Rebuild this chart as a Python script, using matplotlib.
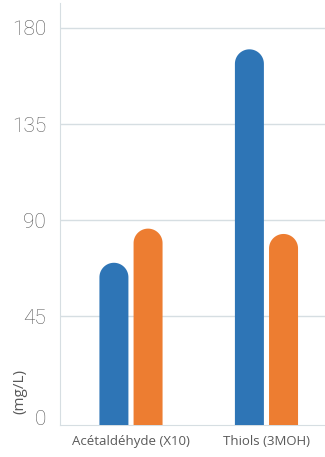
import numpy as np
import matplotlib
matplotlib.use("Agg")
from matplotlib import pyplot as plt
from matplotlib.path import Path
from matplotlib.patches import PathPatch
from matplotlib.transforms import ScaledTranslation

categories = ["Acétaldéhyde (X10)", "Thiols (3MOH)"]
serie_bleue = [70, 170]
serie_orange = [86, 83.5]
yticks = [0, 45, 90, 135, 180]

BLEU = "#2E75B6"
ORANGE = "#ED7D31"
GRIS = "#595959"
y_bas, y_haut = -6, 191.7

plt.rcParams['font.family'] = ['Open Sans', 'DejaVu Sans']

fig = plt.figure(figsize=(3.25, 4.57), dpi=100)
ax = fig.add_axes([60 / 325, 1 - 425 / 457, 1 - 60 / 325, 422 / 457])
ax.set_xlim(-0.524, 1.432)
ax.set_ylim(y_bas, y_haut)

x = np.arange(len(categories))
larg = 0.214
decal = 0.252
barres = []
for serie, dx, coul in [(serie_bleue, -decal / 2, BLEU), (serie_orange, decal / 2, ORANGE)]:
    b = ax.bar(x + dx, np.array(serie) - y_bas, bottom=y_bas, width=larg, color=coul)
    for rect in b:
        rect.set_visible(False)
        barres.append((rect, coul))

# barres a sommet arrondi
fig.canvas.draw()
tr = ax.transData
for rect, coul in barres:
    x0, x1 = rect.get_x(), rect.get_x() + rect.get_width()
    top = rect.get_y() + rect.get_height()
    (px0, pb), (px1, pt) = tr.transform([(x0, y_bas), (x1, top)])
    r = (px1 - px0) / 2
    cx, cy = px0 + r, pt - r
    ang = np.linspace(0, np.pi, 40)
    pts = [(px0, pb), (px1, pb)] + [(cx + r * np.cos(a), cy + r * np.sin(a)) for a in ang] + [(px0, pb)]
    data_pts = tr.inverted().transform(pts)
    codes = [Path.MOVETO] + [Path.LINETO] * (len(pts) - 2) + [Path.CLOSEPOLY]
    ax.add_patch(PathPatch(Path(data_pts, codes), facecolor=coul, edgecolor="none", zorder=3))

ax.set_yticks(yticks)
ax.set_yticklabels([str(v) for v in yticks], fontsize=15, color=GRIS,
                   family=['Roboto', 'DejaVu Sans'], fontweight="light")
ax.set_xticks(x)
ax.set_xticklabels(categories, fontsize=9.5, color=GRIS)
ax.tick_params(axis="both", length=0)
ax.tick_params(axis="y", pad=10)
ax.tick_params(axis="x", pad=7)
ax.grid(axis="y", color="#D6DEE2", linewidth=1)
ax.get_ygridlines()[0].set_visible(False)
ax.set_axisbelow(True)
for s in ["top", "right"]:
    ax.spines[s].set_visible(False)
ax.spines["left"].set_color("#D6DEE2")
ax.spines["bottom"].set_color("#D6DEE2")

# le "0" est un peu plus bas dans l'original
lbl0 = ax.get_yticklabels()[0]
lbl0.set_transform(lbl0.get_transform() + ScaledTranslation(0, -0.05, fig.dpi_scale_trans))

fig.text(20 / 325, 1 - 391 / 457, "(mg/L)", rotation=90, fontsize=11, color=GRIS,
         ha="center", va="center")

fig.savefig("out.png", dpi=100)
